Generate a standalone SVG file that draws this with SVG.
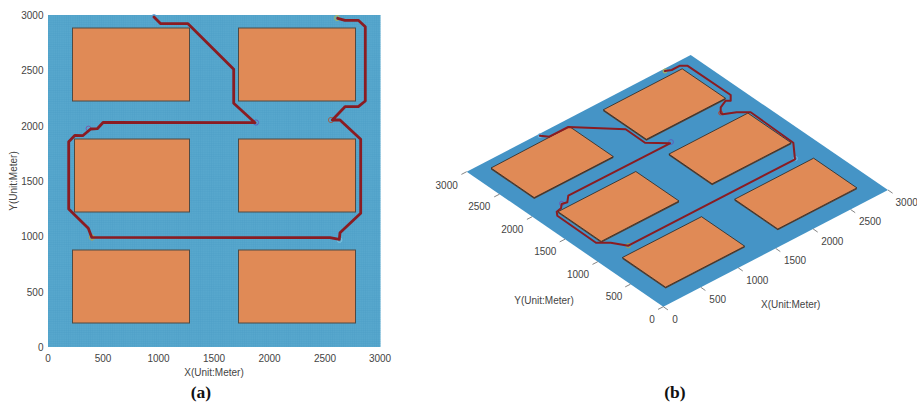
<svg xmlns="http://www.w3.org/2000/svg" width="917" height="402" viewBox="0 0 917 402">
<style>
text{font-family:"Liberation Sans",Arial,sans-serif;font-size:10px;fill:#444}
.e{text-anchor:end}.m{text-anchor:middle}
.cap{font-family:"Liberation Serif","Times New Roman",serif;font-size:17.5px;font-weight:bold;fill:#111;text-anchor:middle}
.r2{fill:#e08a56;stroke:#4f4a44;stroke-width:1}
.r3{fill:#e08a56;stroke:#2b2420;stroke-width:.8;stroke-linejoin:round}
.sh{fill:#5a4030}
.route{fill:none;stroke:#8a1c22;stroke-linejoin:round;stroke-linecap:round}
.tk{stroke:#666;stroke-width:.8;fill:none}
.pt{fill:none;stroke-width:1}
</style>
<defs>
<pattern id="mesh" width="2.2" height="2.2" patternUnits="userSpaceOnUse"><path d="M2.2 0H0V2.2" fill="none" stroke="#4a9cc4" stroke-width=".5"/></pattern>
</defs>
<rect width="917" height="402" fill="#fff"/>

<g id="plot-a">
<rect id="ground-a" x="48" y="15" width="332.5" height="332" fill="#57a7cd"/>
<rect x="48" y="15" width="332.5" height="332" fill="url(#mesh)"/>
<g id="a-b1"><rect class="r2" x="72.5" y="28" width="117" height="73"/></g>
<g id="a-b2"><rect class="r2" x="238.5" y="28" width="117" height="73"/></g>
<g id="a-b3"><rect class="r2" x="74.5" y="139" width="115" height="73"/></g>
<g id="a-b4"><rect class="r2" x="238.5" y="139" width="117" height="73"/></g>
<g id="a-b5"><rect class="r2" x="72.5" y="250" width="117" height="73"/></g>
<g id="a-b6"><rect class="r2" x="238.5" y="250" width="117" height="73"/></g>
<g id="a-route">
<circle class="pt" cx="154" cy="17" r="2.4" stroke="#5b9bd5"/>
<circle class="pt" cx="337" cy="18" r="2.4" stroke="#b5b84a"/>
<circle class="pt" cx="256" cy="122.5" r="2.6" stroke="#5a5fc0"/>
<circle class="pt" cx="331" cy="120" r="2.6" stroke="#a0604a"/>
<circle class="pt" cx="88.5" cy="128.5" r="2.4" stroke="#7a5ab0"/>
<circle class="pt" cx="92" cy="237.5" r="2.6" stroke="#c0a040"/>
<circle class="pt" cx="339.5" cy="240" r="2.4" stroke="#7cc4e0"/>
<polyline class="route" stroke-width="2.8" points="154,17 160.7,23.7 188,23.7 233.7,69.3 233.7,103.3 255,122.7 103.3,122.3 97.3,128.7 90.7,129 82.7,135.7 75,135.3 68.7,141.7 68.7,209 88.3,228.3 91.7,237.3 330,237.7 339.3,239.3 340,232.7 360.7,213.3 360.7,139.3 340,120 332.3,120 345,106.7 358.3,106.7 365.3,101 365.3,26.7 358.3,20.3 345,20.3 337.7,18.3"/>
</g>
<g id="a-ticks">
<text class="e" x="43.5" y="19">3000</text>
<text class="e" x="43.5" y="74.3">2500</text>
<text class="e" x="43.5" y="129.7">2000</text>
<text class="e" x="43.5" y="185">1500</text>
<text class="e" x="43.5" y="240.3">1000</text>
<text class="e" x="43.5" y="296">500</text>
<text class="e" x="43.5" y="351">0</text>
<text class="m" x="48" y="362">0</text>
<text class="m" x="103" y="362">500</text>
<text class="m" x="158.5" y="362">1000</text>
<text class="m" x="214" y="362">1500</text>
<text class="m" x="269.5" y="362">2000</text>
<text class="m" x="325" y="362">2500</text>
<text class="m" x="380" y="362">3000</text>
<text class="m" x="214" y="376">X(Unit:Meter)</text>
<text class="m" transform="translate(16.5 181) rotate(-90)">Y(Unit:Meter)</text>
</g>
<text class="cap" x="201" y="398">(a)</text>
</g>

<g id="plot-b">
<polygon id="ground-b" points="663.3,306.7 888,190 690.7,55 466.7,171.7" fill="#4594c6"/>
<g id="b-b1"><polygon class="sh" points="665.6,288.6 744.7,247.5 744.7,246.2 665.6,287.2 622.4,257.5 622.4,258.9"/><polygon class="r3" points="665.6,287.2 744.7,246.2 701.5,216.7 622.4,257.5"/></g>
<g id="b-b2"><polygon class="sh" points="777.8,230.3 856.9,189.3 856.9,187.9 777.8,229 734.6,199.3 734.6,200.7"/><polygon class="r3" points="777.8,229 856.9,187.9 813.6,158.2 734.6,199.3"/></g>
<g id="b-b3"><polygon class="sh" points="601.2,242.8 679,202.4 679,201 601.2,241.4 558,211.7 558,213.1"/><polygon class="r3" points="601.2,241.4 679,201 635.8,171.5 558,211.7"/></g>
<g id="b-b4"><polygon class="sh" points="712.1,185.2 791.2,144.2 791.2,142.8 712.1,183.8 668.9,154.1 668.9,155.5"/><polygon class="r3" points="712.1,183.8 791.2,142.8 747.9,113.1 668.9,154.1"/></g>
<g id="b-b5"><polygon class="sh" points="534.2,199 613.3,158 613.3,156.6 534.2,197.6 491,168 491,169.4"/><polygon class="r3" points="534.2,197.6 613.3,156.6 569.5,126.6 491,168"/></g>
<g id="b-b6"><polygon class="sh" points="646.4,140.7 725.5,99.7 725.5,98.3 646.4,139.3 603.3,109.8 603.3,111.2"/><polygon class="r3" points="646.4,139.3 725.5,98.3 682.2,68.8 603.3,109.8"/></g>
<g id="b-route">
<circle class="pt" cx="540" cy="135.7" r="2" stroke="#6fb0dc"/>
<circle class="pt" cx="665" cy="71" r="2" stroke="#b5b84a"/>
<circle class="pt" cx="671" cy="142" r="2.4" stroke="#5a5fc0"/>
<circle class="pt" cx="720.7" cy="113" r="2" stroke="#c0402a"/>
<circle class="pt" cx="561.7" cy="203.5" r="2.2" stroke="#6a5ab8"/>
<circle class="pt" cx="628.3" cy="245.7" r="2.2" stroke="#a8a040"/>
<circle class="pt" cx="795.5" cy="158.5" r="2" stroke="#6fb8e0"/>
<polyline class="route" stroke-width="2" points="540,135.7 549.3,136.7 568.3,127 625.7,129.3 645,142.7 670,143.3 568.3,195.7 567.3,202.3 561.7,204 561,208.3 556.7,211.7 557.3,215.7 596,242.7 610.7,242.7 628.3,245.7 795,159.3 793.3,142.7 750.7,112.3 736.7,112.3 722.7,114.3 720.7,113 720.7,107.3 725.7,100.7 730.7,100.7 730.7,95 687.3,65.7 680,65.7 671.7,70 665,71"/>
</g>
<g id="b-ticks">
<path class="tk" d="M663.3 306.7l-5.3 2.7M630.5 284.2l-5.3 2.7M597.8 261.7l-5.3 2.7M565 239.2l-5.3 2.7M532.2 216.7l-5.3 2.7M499.5 194.2l-5.3 2.7M466.7 171.7l-5.3 2.7"/>
<path class="tk" d="M663.3 306.7l4.6 3.2M700.8 287.3l4.6 3.2M738.2 267.8l4.6 3.2M775.7 248.4l4.6 3.2M813.1 228.9l4.6 3.2M850.6 209.5l4.6 3.2M888 190l4.6 3.2"/>
<text class="m" x="446.7" y="188.6">3000</text>
<text class="m" x="479.3" y="210.3">2500</text>
<text class="m" x="512.3" y="232.9">2000</text>
<text class="m" x="545.3" y="255.3">1500</text>
<text class="m" x="578" y="277.6">1000</text>
<text class="m" x="614" y="299.9">500</text>
<text class="m" x="652" y="322.6">0</text>
<text class="m" x="675" y="323.3">0</text>
<text class="m" x="717.7" y="302.9">500</text>
<text class="m" x="757.3" y="283.6">1000</text>
<text class="m" x="795" y="264.3">1500</text>
<text class="m" x="832.3" y="244.6">2000</text>
<text class="m" x="870" y="224.9">2500</text>
<text class="m" x="906.7" y="205.6">3000</text>
<text class="m" x="544" y="303.6">Y(Unit:Meter)</text>
<text class="m" x="790.7" y="307.6">X(Unit:Meter)</text>
</g>
<text class="cap" x="675" y="398">(b)</text>
</g>
</svg>
